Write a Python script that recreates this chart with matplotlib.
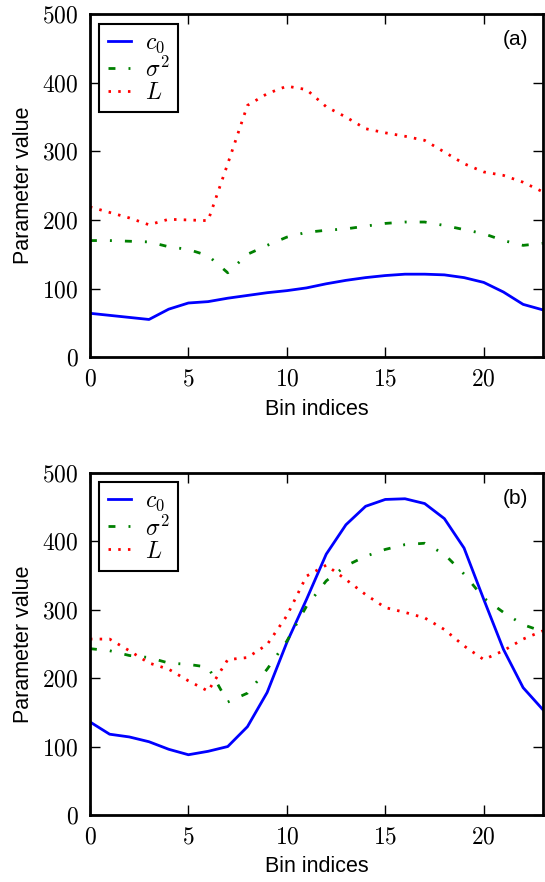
import numpy as np
import matplotlib
matplotlib.use("Agg")
import matplotlib.pyplot as plt
from matplotlib.ticker import FuncFormatter

plt.rcParams["mathtext.fontset"] = "cm"
plt.rcParams["font.family"] = ["Liberation Sans", "DejaVu Sans"]

# ---------------------------------------------------------------
# Data
# ---------------------------------------------------------------
bins = np.arange(24)

c0_a = [64, 61, 58, 55, 70, 79, 81, 86, 90, 94, 97, 101,
        107, 112, 116, 119, 121, 121, 120, 116, 109, 95, 77, 69]
sig_a = [170, 170, 169, 168, 161, 157, 148, 123, 150, 163, 175, 182,
         185, 187, 191, 195, 197, 197, 192, 186, 180, 170, 163, 166]
L_a = [219, 211, 203, 193, 201, 200, 199, 282, 367, 384, 395, 390,
       365, 350, 333, 327, 322, 316, 299, 282, 270, 265, 255, 241]

c0_b = [136, 118, 114, 107, 96, 88, 93, 100, 129, 179, 252, 315,
        381, 424, 451, 461, 462, 455, 433, 390, 315, 242, 186, 154]
sig_b = [243, 240, 233, 230, 222, 220, 216, 165, 178, 213, 254, 305,
         342, 364, 378, 388, 395, 397, 381, 352, 317, 296, 278, 268]
L_b = [257, 257, 240, 222, 213, 196, 181, 227, 230, 249, 291, 349,
       365, 344, 322, 303, 296, 288, 271, 247, 227, 240, 257, 269]

panels = [("(a)", c0_a, sig_a, L_a), ("(b)", c0_b, sig_b, L_b)]
labels = [r"$c_0$", r"$\sigma^2$", r"$L$"]

fig = plt.figure(figsize=(5.45, 8.82), dpi=100)
boxes = [[0.165, 0.595, 0.831, 0.389], [0.165, 0.076, 0.831, 0.388]]

cm_fmt = FuncFormatter(lambda v, pos: r"$%d$" % v)

for box, (tag, c0, sig, L) in zip(boxes, panels):
    ax = fig.add_axes(box)
    ax.plot(bins, c0, "b-", lw=2, label=labels[0])
    ax.plot(bins, sig, color="green", lw=2, dashes=(2.5, 4.7, 0.7, 4.7),
            label=labels[1])
    ax.plot(bins, L, "r", lw=2, dashes=(0.9, 2.6), label=labels[2])

    ax.set_xlim(0, 23)
    ax.set_ylim(0, 500)
    ax.set_xticks([0, 5, 10, 15, 20])
    ax.set_yticks([0, 100, 200, 300, 400, 500])
    ax.xaxis.set_major_formatter(cm_fmt)
    ax.yaxis.set_major_formatter(cm_fmt)
    ax.tick_params(direction="in", length=7, width=1, top=True, right=True,
                   labelsize=17, pad=8)
    for s in ax.spines.values():
        s.set_linewidth(2)

    ax.set_xlabel("Bin indices", fontsize=15.5, labelpad=6)
    ax.set_ylabel("Parameter value", fontsize=15.5, labelpad=6)
    ax.text(0.94, 0.925, tag, transform=ax.transAxes, fontsize=15,
            ha="center", va="center")

    leg = ax.legend(loc="upper left", fontsize=17, handlelength=1.0,
                    fancybox=False, framealpha=1, borderaxespad=0.4,
                    labelspacing=0.05, borderpad=0.35, handletextpad=0.6)
    leg.get_frame().set_edgecolor("black")
    leg.get_frame().set_linewidth(1.5)

fig.savefig("out.png", dpi=100)
